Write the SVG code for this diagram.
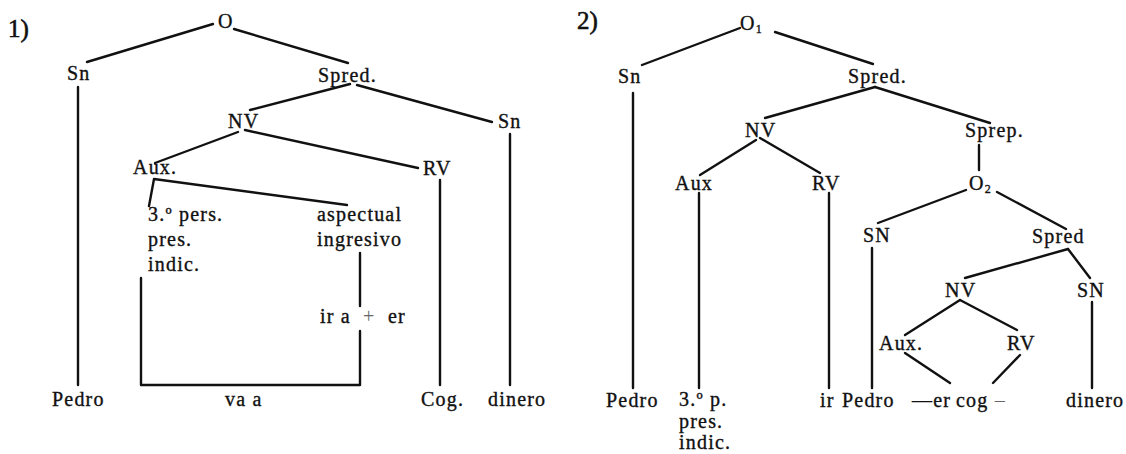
<svg xmlns="http://www.w3.org/2000/svg" width="1126" height="454" viewBox="0 0 1126 454">
  <style>
    .t { font-family: "Liberation Serif", "Times New Roman", serif; font-size: 20px; letter-spacing: 1.2px; fill: #111; stroke: #111; stroke-width: 0.35px; }
    .num { font-size: 25px; letter-spacing: 0; stroke-width: 0.6px; }
    .sub { font-size: 12px; letter-spacing: 0; }
    .faint { fill: #666; stroke: none; }
    .e { stroke: #111; stroke-width: 2.4; fill: none; stroke-linecap: round; stroke-linejoin: round; }
  </style>
  <rect width="1126" height="454" fill="#ffffff"/>

  <!-- Tree 1 -->
  <g id="tree1">
    <g id="connectors1">
      <line class="e" x1="213" y1="24" x2="87" y2="62"/>
      <line class="e" x1="234" y1="29" x2="348" y2="63"/>
      <line class="e" x1="350" y1="84" x2="250" y2="110"/>
      <line class="e" x1="357" y1="85" x2="492" y2="122"/>
      <line class="e" x1="238" y1="132" x2="155" y2="163"/>
      <line class="e" x1="245" y1="130" x2="418" y2="168"/>
      <line class="e" x1="78" y1="87" x2="78" y2="385"/>
      <line class="e" x1="510" y1="134" x2="510" y2="385"/>
      <line class="e" x1="440" y1="180" x2="440" y2="385"/>
      <polyline class="e" points="149,206 154,179 347,205"/>
      <polyline class="e" points="141,278 141,385 360,385 360,331"/>
      <line class="e" x1="360" y1="253" x2="360" y2="306"/>
    </g>
    <g id="label1"><text class="t num" x="8" y="37">1)</text></g>
    <g id="n1-O"><text class="t" x="218" y="28">O</text></g>
    <g id="n1-Sn"><text class="t" x="67" y="80">Sn</text></g>
    <g id="n1-Spred"><text class="t" x="318" y="82">Spred.</text></g>
    <g id="n1-NV"><text class="t" x="228" y="128">NV</text></g>
    <g id="n1-Sn2"><text class="t" x="498" y="128">Sn</text></g>
    <g id="n1-Aux"><text class="t" x="133" y="174">Aux.</text></g>
    <g id="n1-RV"><text class="t" x="423" y="175">RV</text></g>
    <g id="n1-pers">
      <text class="t" x="148" y="221">3.º pers.</text>
      <text class="t" x="148" y="246">pres.</text>
      <text class="t" x="148" y="271">indic.</text>
    </g>
    <g id="n1-aspectual">
      <text class="t" x="317" y="221">aspectual</text>
      <text class="t" x="317" y="246">ingresivo</text>
    </g>
    <g id="n1-ira">
      <text class="t" x="320" y="323">ir a</text>
      <text class="t faint" x="363" y="323">+</text>
      <text class="t" x="388" y="323">er</text>
    </g>
    <g id="n1-Pedro"><text class="t" x="52" y="406">Pedro</text></g>
    <g id="n1-vaa"><text class="t" x="225" y="406">va  a</text></g>
    <g id="n1-Cog"><text class="t" x="421" y="406">Cog.</text></g>
    <g id="n1-dinero"><text class="t" x="488" y="406">dinero</text></g>
  </g>

  <!-- Tree 2 -->
  <g id="tree2">
    <g id="connectors2">
      <line class="e" x1="740" y1="28" x2="642" y2="65"/>
      <line class="e" x1="775" y1="32" x2="873" y2="64"/>
      <line class="e" x1="875" y1="87" x2="765" y2="118"/>
      <line class="e" x1="875" y1="87" x2="990" y2="123"/>
      <line class="e" x1="633" y1="93" x2="633" y2="388"/>
      <line class="e" x1="979" y1="145" x2="979" y2="170"/>
      <line class="e" x1="756" y1="140" x2="700" y2="175"/>
      <line class="e" x1="760" y1="138" x2="820" y2="173"/>
      <line class="e" x1="699" y1="193" x2="699" y2="388"/>
      <line class="e" x1="829" y1="193" x2="829" y2="388"/>
      <line class="e" x1="966" y1="190" x2="878" y2="223"/>
      <line class="e" x1="997" y1="192" x2="1066" y2="229"/>
      <line class="e" x1="872" y1="248" x2="872" y2="388"/>
      <line class="e" x1="1068" y1="249" x2="965" y2="278"/>
      <line class="e" x1="1068" y1="249" x2="1090" y2="278"/>
      <line class="e" x1="1092" y1="302" x2="1092" y2="388"/>
      <line class="e" x1="960" y1="300" x2="905" y2="335"/>
      <line class="e" x1="960" y1="300" x2="1017" y2="330"/>
      <line class="e" x1="905" y1="353" x2="950" y2="383"/>
      <line class="e" x1="1020" y1="355" x2="993" y2="383"/>
    </g>
    <g id="label2"><text class="t num" x="577" y="29">2)</text></g>
    <g id="n2-O1"><text class="t" x="740" y="30">O<tspan class="sub" dy="3">1</tspan></text></g>
    <g id="n2-Sn"><text class="t" x="618" y="83">Sn</text></g>
    <g id="n2-Spred"><text class="t" x="848" y="83">Spred.</text></g>
    <g id="n2-NV"><text class="t" x="745" y="137">NV</text></g>
    <g id="n2-Sprep"><text class="t" x="965" y="137">Sprep.</text></g>
    <g id="n2-Aux"><text class="t" x="675" y="190">Aux</text></g>
    <g id="n2-RV"><text class="t" x="812" y="190">RV</text></g>
    <g id="n2-O2"><text class="t" x="969" y="190">O<tspan class="sub" dy="3">2</tspan></text></g>
    <g id="n2-SN"><text class="t" x="863" y="242">SN</text></g>
    <g id="n2-Spred2"><text class="t" x="1032" y="243">Spred</text></g>
    <g id="n2-NV2"><text class="t" x="945" y="297">NV</text></g>
    <g id="n2-SN2"><text class="t" x="1077" y="297">SN</text></g>
    <g id="n2-Aux2"><text class="t" x="879" y="350">Aux.</text></g>
    <g id="n2-RV2"><text class="t" x="1007" y="350">RV</text></g>
    <g id="n2-Pedro"><text class="t" x="606" y="407">Pedro</text></g>
    <g id="n2-3p">
      <text class="t" x="679" y="406">3.º p.</text>
      <text class="t" x="679" y="428">pres.</text>
      <text class="t" x="679" y="449">indic.</text>
    </g>
    <g id="n2-ir"><text class="t" x="820" y="407">ir</text></g>
    <g id="n2-Pedro2"><text class="t" x="842" y="407">Pedro</text></g>
    <g id="n2-er"><text class="t" x="912" y="407">—er</text></g>
    <g id="n2-cog"><text class="t" x="956" y="407">cog <tspan class="faint">–</tspan></text></g>
    <g id="n2-dinero"><text class="t" x="1066" y="407">dinero</text></g>
  </g>
</svg>
